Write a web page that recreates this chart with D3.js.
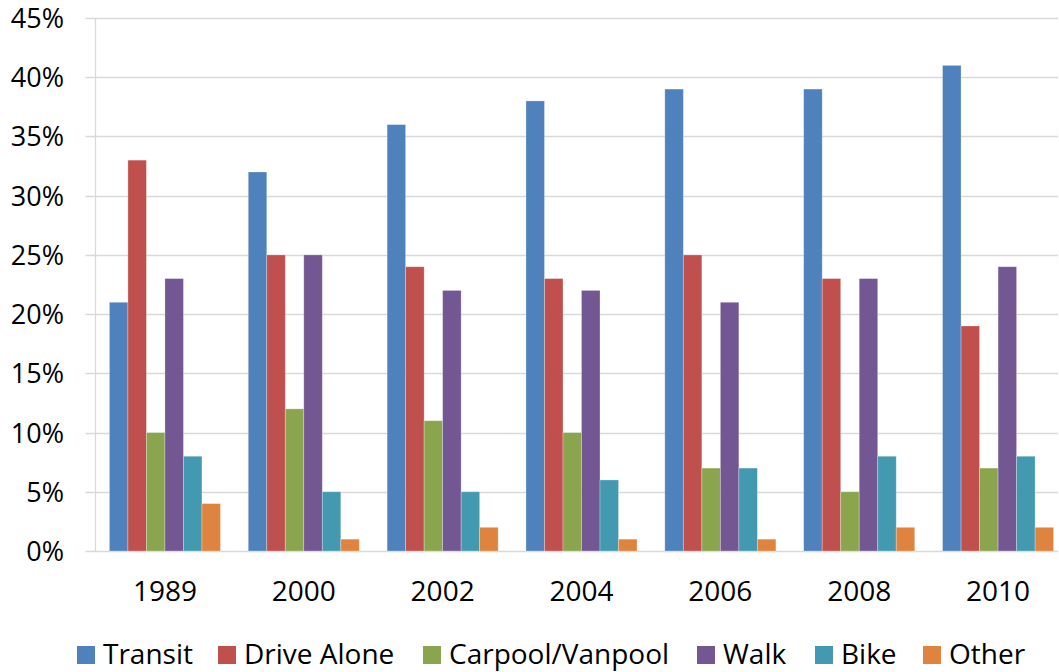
<!DOCTYPE html>
<html>
<head>
<meta charset="utf-8">
<script src="https://cdnjs.cloudflare.com/ajax/libs/d3/7.8.5/d3.min.js"></script>
<style>
    body { margin: 0; background: #fff; }
    text { font-family: "Open Sans", "Noto Sans", sans-serif; fill: #000; }
</style>
</head>
<body>
<svg id="chart"></svg>
<script>
var years = ["1989", "2000", "2002", "2004", "2006", "2008", "2010"];
var modes = ["Transit", "Drive Alone", "Carpool/Vanpool", "Walk", "Bike", "Other"];
var transit = [21, 32, 36, 38, 39, 39, 41];
var driveAlone = [33, 25, 24, 23, 25, 23, 19];
var carpool = [10, 12, 11, 10, 7, 5, 7];
var walk = [23, 25, 22, 22, 21, 23, 24];
var bike = [8, 5, 5, 6, 7, 8, 8];
var other = [4, 1, 2, 1, 1, 2, 2];
var yTicks = [0, 5, 10, 15, 20, 25, 30, 35, 40, 45];
var colors = ["#4f81bd", "#c0504d", "#8aa54e", "#735792", "#4399b0", "#de843e"];

var series = [transit, driveAlone, carpool, walk, bike, other];

var width = 1059, height = 672;
var plot = {left: 95.5, right: 1067.5, top: 18, bottom: 551};

var svg = d3.select("#chart")
    .attr("width", width)
    .attr("height", height);

// bars are packed inside each year, no gap between them
var x = d3.scaleBand()
    .domain(years)
    .range([plot.left, plot.right]);

var inner = d3.scaleBand()
    .domain(modes)
    .range([13.9, x.bandwidth() - 13.9]);

var y = d3.scaleLinear()
    .domain([0, 45])
    .range([plot.bottom, plot.top]);

// gridlines
svg.append("g")
    .selectAll("line")
    .data(yTicks)
    .enter().append("line")
    .attr("x1", plot.left - 10)
    .attr("x2", width - 1)
    .attr("y1", function (d) { return Math.round(y(d)) + 0.5; })
    .attr("y2", function (d) { return Math.round(y(d)) + 0.5; })
    .style("stroke", "#d9d9d9")
    .style("stroke-width", 1.3);

// vertical axis line
svg.append("line")
    .attr("x1", plot.left).attr("x2", plot.left)
    .attr("y1", y(45)).attr("y2", y(0))
    .style("stroke", "#d9d9d9")
    .style("stroke-width", 1.3);

// y labels
svg.append("g")
    .selectAll("text")
    .data(yTicks)
    .enter().append("text")
    .attr("x", 64)
    .attr("y", function (d) { return y(d) + 10; })
    .attr("text-anchor", "end")
    .style("font-size", "27px")
    .text(function (d) { return d + "%"; });

// bars
var groups = svg.append("g")
    .selectAll("g")
    .data(years)
    .enter().append("g")
    .attr("transform", function (d) { return "translate(" + x(d) + ",0)"; });

groups.selectAll("rect")
    .data(function (d, i) {
        return modes.map(function (m, j) { return {mode: m, value: series[j][i], idx: j}; });
    })
    .enter().append("rect")
    .attr("x", function (d) { return inner(d.mode); })
    .attr("width", inner.bandwidth())
    .attr("y", function (d) { return y(d.value); })
    .attr("height", function (d) { return y(0) - y(d.value); })
    .style("fill", function (d) { return colors[d.idx]; })
    .style("stroke", "rgba(255,255,255,0.35)")
    .style("stroke-width", 0.8);

// x labels
svg.append("g")
    .selectAll("text")
    .data(years)
    .enter().append("text")
    .attr("x", function (d) { return x(d) + x.bandwidth() / 2; })
    .attr("y", 601)
    .attr("text-anchor", "middle")
    .style("font-size", "28px")
    .text(function (d) { return d; });

// legend
var legendX = [77, 218, 423, 697, 815, 923];
var legend = svg.append("g")
    .selectAll("g")
    .data(modes)
    .enter().append("g")
    .attr("transform", function (d, i) { return "translate(" + legendX[i] + ",646)"; });

legend.append("rect")
    .attr("width", 18)
    .attr("height", 18)
    .style("fill", function (d, i) { return colors[i]; });

legend.append("text")
    .attr("x", 26)
    .attr("y", 18)
    .style("font-size", "28px")
    .text(function (d) { return d; });
</script>
</body>
</html>
